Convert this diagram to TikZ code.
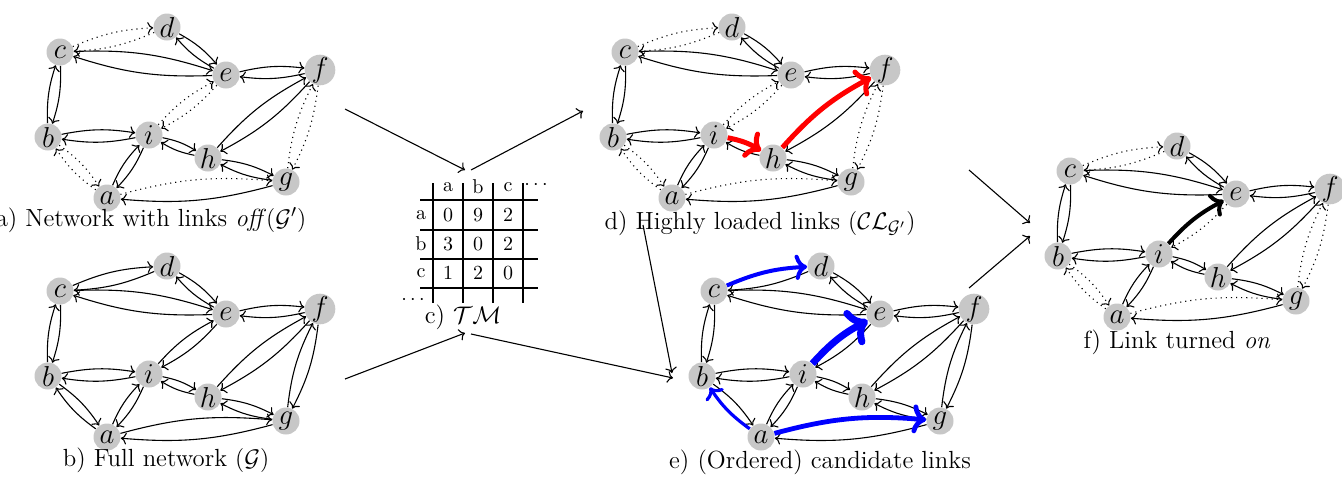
\documentclass[tikz,border=0pt]{standalone}
\usetikzlibrary{arrows.meta}
\tikzset{
  vtx/.style={circle, fill=black!22, minimum size=13.5pt, inner sep=0pt, font=\Large},
  lk/.style={->, line width=0.55pt, bend left=10},
  off/.style={dotted},
  ehf/.style={}, eih/.style={}, ecd/.style={}, eie/.style={}, eab/.style={}, eag/.style={},
  lab/.style={font=\fontsize{12.4}{15}\selectfont, inner sep=0pt},
  mtx/.style={inner sep=0pt},
  flow/.style={->, line width=0.55pt},
}
\newcommand\placenodes[3]{%
  \begin{scope}[shift={(#2,#3)}]
  \node[vtx] (#1c) at (60,52) {$c$};
  \node[vtx] (#1d) at (167,27) {$d$};
  \node[vtx] (#1e) at (226,75) {$e$};
  \node[vtx] (#1f) at (320,70) {$f$};
  \node[vtx] (#1b) at (48,137) {$b$};
  \node[vtx] (#1i) at (149,135) {$i$};
  \node[vtx] (#1h) at (208,158) {$h$};
  \node[vtx] (#1g) at (286,182) {$g$};
  \node[vtx] (#1a) at (107,198) {$a$};
  \end{scope}}
\newcommand\lnk[3]{\draw[lk,#3] (#1) to (#2);}
\newcommand\alledges[1]{%
  \lnk{#1d}{#1e}{}\lnk{#1e}{#1d}{}
  \lnk{#1c}{#1e}{}\lnk{#1e}{#1c}{}
  \lnk{#1c}{#1b}{}\lnk{#1b}{#1c}{}
  \lnk{#1b}{#1i}{}\lnk{#1i}{#1b}{}
  \lnk{#1e}{#1f}{}\lnk{#1f}{#1e}{}
  \lnk{#1f}{#1h}{}
  \lnk{#1h}{#1i}{}
  \lnk{#1h}{#1g}{}\lnk{#1g}{#1h}{}
  \lnk{#1a}{#1i}{}\lnk{#1i}{#1a}{}
  \lnk{#1g}{#1a}{}
  \lnk{#1d}{#1c}{off}
  \lnk{#1e}{#1i}{off}
  \lnk{#1f}{#1g}{off}\lnk{#1g}{#1f}{off}
  \lnk{#1b}{#1a}{off}
  \lnk{#1c}{#1d}{off,ecd}
  \lnk{#1i}{#1e}{off,eie}
  \lnk{#1a}{#1b}{off,eab}
  \lnk{#1a}{#1g}{off,eag}
  \lnk{#1i}{#1h}{eih}
  \lnk{#1h}{#1f}{ehf}
}
\begin{document}
\begin{tikzpicture}[x=0.5pt,y=-0.5pt]
\useasboundingbox (0,0) rectangle (1342,483);

% a) network with links off
\placenodes{A}{0}{0}
\alledges{A}
\node[lab] (Alab) at (151,220) {a) Network with links \emph{off}$(\mathcal{G}')$};

% b) full network
\placenodes{B}{0}{239}
\begin{scope}[off/.style={}]
\alledges{B}
\end{scope}
\node[lab] (Blab) at (166,460) {b) Full network $(\mathcal{G})$};

% d) highly loaded links
\placenodes{D}{565}{0}
\begin{scope}[eih/.style={red, line width=2.5pt}, ehf/.style={red, line width=2.5pt}]
\alledges{D}
\end{scope}
\node[lab] (Dlab) at (760,223) {d) Highly loaded links $(\mathcal{CL}_{\mathcal{G}'})$};

% e) candidate links
\placenodes{E}{654}{239}
\begin{scope}[off/.style={},
  ecd/.style={blue, line width=2pt},
  eie/.style={blue, line width=3.5pt},
  eab/.style={blue, line width=1.6pt},
  eag/.style={blue, line width=2.4pt}]
\alledges{E}
\end{scope}
\node[lab] (Elab) at (820,462) {e) (Ordered) candidate links};

% f) link turned on
\placenodes{F}{1010}{119}
\begin{scope}[eie/.style={solid, line width=2pt}]
\alledges{F}
\end{scope}
\node[lab] (Flab) at (1177,342) {f) Link turned \emph{on}};

% c) traffic matrix
\foreach \x in {433,463,493,523} \draw[line width=0.55pt] (\x,183) -- (\x,303);
\foreach \y in {200,230,259,288} \draw[line width=0.55pt] (420,\y) -- (538,\y);
\node[mtx] (ha) at (448,187) {a};
\node[mtx] (hb) at (478,187) {b};
\node[mtx] (hc) at (508,187) {c};
\node[mtx] (hd) at (536,185) {$\cdots$};
\node[mtx] (ra) at (421,215) {a};
\node[mtx] (rb) at (421,244) {b};
\node[mtx] (rc) at (421,273) {c};
\node[mtx] (rd) at (413,300) {$\cdots$};
\node[mtx] (m11) at (448,215) {0};
\node[mtx] (m12) at (478,215) {9};
\node[mtx] (m13) at (508,215) {2};
\node[mtx] (m21) at (448,244) {3};
\node[mtx] (m22) at (478,244) {0};
\node[mtx] (m23) at (508,244) {2};
\node[mtx] (m31) at (448,273) {1};
\node[mtx] (m32) at (478,273) {2};
\node[mtx] (m33) at (508,273) {0};
\node[lab] (Clab) at (463,317) {c) $\mathcal{T}\mathcal{M}$};

% flow arrows
\coordinate (p1) at (345,109); \coordinate (q1) at (465,170);
\coordinate (p2) at (471,170); \coordinate (q2) at (583,111);
\coordinate (p3) at (345,379); \coordinate (q3) at (465,333);
\coordinate (p4) at (471,334); \coordinate (q4) at (673,378);
\coordinate (p5) at (643,225); \coordinate (q5) at (672,373);
\coordinate (p6) at (969,170); \coordinate (q6) at (1030,223);
\coordinate (p7) at (969,288); \coordinate (q7) at (1030,236);
\foreach \k in {1,...,7} \draw[flow] (p\k) -- (q\k);
\end{tikzpicture}
\end{document}
